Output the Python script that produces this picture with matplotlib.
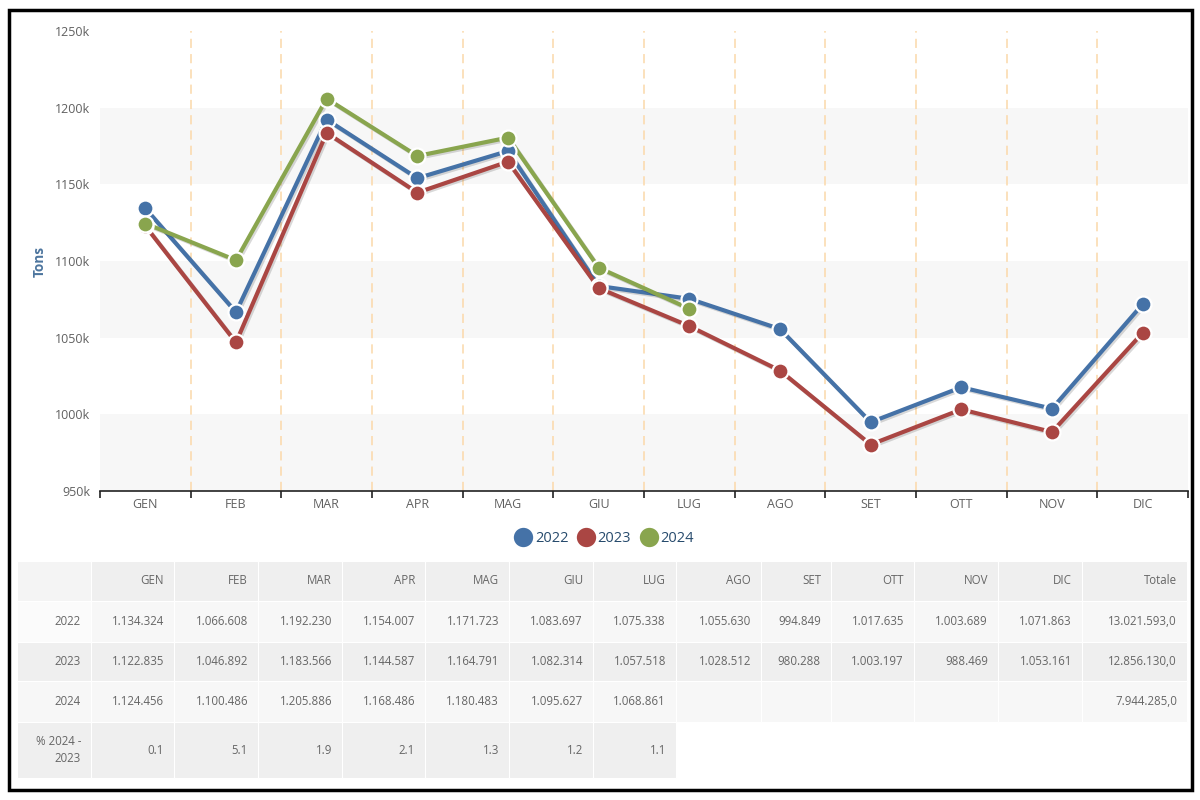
import matplotlib
matplotlib.use("Agg")
import matplotlib.pyplot as plt
import matplotlib.patheffects as pe
from matplotlib.patches import Rectangle

# ---------------- data ----------------
months = ["GEN", "FEB", "MAR", "APR", "MAG", "GIU", "LUG", "AGO", "SET", "OTT", "NOV", "DIC"]
years = ["2022", "2023", "2024"]
v2022 = [1134324, 1066608, 1192230, 1154007, 1171723, 1083697, 1075338, 1055630, 994849, 1017635, 1003689, 1071863]
v2023 = [1122835, 1046892, 1183566, 1144587, 1164791, 1082314, 1057518, 1028512, 980288, 1003197, 988469, 1053161]
v2024 = [1124456, 1100486, 1205886, 1168486, 1180483, 1095627, 1068861]
totals = [13021593.0, 12856130.0, 7944285.0]
pct_label = "% 2024 -\n2023"
pct = [0.1, 5.1, 1.9, 2.1, 1.3, 1.2, 1.1]
yticks = [950000, 1000000, 1050000, 1100000, 1150000, 1200000, 1250000]
colors = ["#4572A7", "#AA4643", "#89A54E"]

FONT = "Open Sans"
plt.rcParams["font.family"] = [FONT, "DejaVu Sans"]

W, H = 1200, 800
fig = plt.figure(figsize=(12, 8), dpi=100)
fig.patch.set_facecolor("white")

def fx(px):
    return px / W

def fy(py):
    return 1 - py / H

# ---------------- chart ----------------
L, R, T, B = 100, 1188, 31, 491
ax = fig.add_axes([fx(L), fy(B), fx(R - L), (B - T) / H])
ax.set_xlim(-0.5, len(months) - 0.5)
ax.set_ylim(yticks[0], yticks[-1])
ax.set_facecolor("white")

# alternate bands
for i in range(0, len(yticks) - 1, 2):
    ax.axhspan(yticks[i], yticks[i + 1], color="#f7f7f7", zorder=0, lw=0)

# vertical dashed plot lines between categories
for k in range(len(months) - 1):
    ax.axvline(k + 0.5, color="#fbd8a9", lw=1.1, dashes=(6, 4), zorder=1)

series = [v2022, v2023, v2024]
for vals, c, lab in zip(series, colors, years):
    xs = list(range(len(vals)))
    ax.plot(xs, vals, color=c, lw=3.0, zorder=3, solid_capstyle="round",
            path_effects=[pe.SimpleLineShadow(offset=(1.2, -1.2), alpha=0.15, rho=0.5), pe.Normal()])
    ax.plot(xs, vals, ls="none", marker="o", ms=11.5, mfc=c, mec="white", mew=1.6, zorder=4, label=lab)

for s in ["top", "right", "left"]:
    ax.spines[s].set_visible(False)
ax.spines["bottom"].set_color("#222222")
ax.spines["bottom"].set_linewidth(1.2)

ax.set_yticks(yticks)
ax.set_yticklabels([f"{int(v/1000)}k" for v in yticks])
ax.tick_params(axis="y", length=0, pad=7, labelsize=9, labelcolor="#606060")
ax.set_xticks(range(len(months)))
ax.set_xticklabels(months)
ax.tick_params(axis="x", length=0, pad=5, labelsize=9, labelcolor="#606060")
ax.set_xticks([k + 0.5 for k in range(-1, len(months))], minor=True)
ax.tick_params(axis="x", which="minor", length=5, width=1.2, color="#222222", direction="out")

fig.text(fx(40), fy((T + B) / 2 - 0), "Tons", rotation=90, ha="center", va="center",
         fontsize=9.8, fontweight="bold", color="#4d759e")

# legend
leg = fig.legend(*ax.get_legend_handles_labels(), loc="center", bbox_to_anchor=(fx(605), fy(539)),
                 ncol=3, frameon=False, fontsize=10.5, handletextpad=0.3, columnspacing=0.7,
                 markerscale=1.35, handlelength=1.0)
for t in leg.get_texts():
    t.set_color("#274b6d")

# ---------------- table ----------------
tax = fig.add_axes([0, 0, 1, 1])
tax.set_xlim(0, W)
tax.set_ylim(H, 0)
tax.axis("off")
tax.patch.set_alpha(0)

col_edges = [17, 91, 174, 258, 342, 425, 509, 593, 676, 761, 831, 914, 998, 1082, 1187]
row_edges = [561, 601, 642, 681, 722, 778]
header = [""] + months + ["Totale"]

def fmt_it(v, dec=False):
    s = f"{int(round(v)):,}".replace(",", ".")
    return s + ",0" if dec else s

rows = [header]
for name, vals, tot in zip(years, series, totals):
    cells = [name] + [fmt_it(v) for v in vals] + [""] * (12 - len(vals)) + [fmt_it(tot, True)]
    rows.append(cells)
rows.append([pct_label] + [f"{p:.1f}" for p in pct])

row_bg = ["#efefef", "#f7f7f7", "#efefef", "#f7f7f7", "#efefef"]
first_bg = ["#f4f4f4", "#fbfbfb", "#efefef", "#f7f7f7", "#efefef"]
for r, cells in enumerate(rows):
    y0, y1 = row_edges[r], row_edges[r + 1]
    for c, txt in enumerate(cells):
        x0, x1 = col_edges[c], col_edges[c + 1]
        bg = first_bg[r] if c == 0 else row_bg[r]
        tax.add_patch(Rectangle((x0, y0), x1 - x0, y1 - y0, facecolor=bg,
                                edgecolor="white", lw=0.8))
        if txt:
            tax.text(x1 - 10, (y0 + y1) / 2, txt, ha="right", va="center",
                     fontsize=8.3, color="#666666", linespacing=1.35)

# outer black border
fig.add_artist(Rectangle((fx(9), fy(790)), fx(1183), (790 - 10) / H, transform=fig.transFigure,
                         fill=False, edgecolor="black", lw=2.5))

fig.savefig("out.png", dpi=100)
